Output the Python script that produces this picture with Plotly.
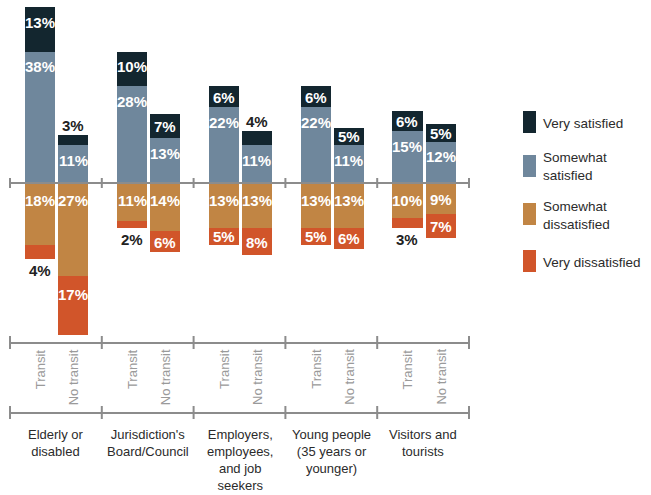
import plotly.graph_objects as go

# ---------------- data ----------------
groups = ["Elderly or<br>disabled", "Jurisdiction's<br>Board/Council",
          "Employers,<br>employees,<br>and job<br>seekers",
          "Young people<br>(35 years or<br>younger)", "Visitors and<br>tourists"]
subcats = ["Transit", "No transit"]
series_names = ["Very satisfied", "Somewhat satisfied", "Somewhat dissatisfied", "Very dissatisfied"]
legend_labels = ["Very satisfied", "Somewhat<br>satisfied", "Somewhat<br>dissatisfied", "Very dissatisfied"]

# order: (g1 Transit, g1 No transit, g2 Transit, ...)
very_satisfied = [13, 3, 10, 7, 6, 4, 6, 5, 6, 5]
somewhat_satisfied = [38, 11, 28, 13, 22, 11, 22, 11, 15, 12]
somewhat_dissatisfied = [18, 27, 11, 14, 13, 13, 13, 13, 10, 9]
very_dissatisfied = [4, 17, 2, 6, 5, 8, 5, 6, 3, 7]

# ---------------- style ----------------
C_VS, C_SS, C_SD, C_VD = "#13262f", "#6f879c", "#c18544", "#d1552a"
FONT = "Liberation Sans, Arial, sans-serif"
AXIS_C = "#8c8c8c"
W, H = 651, 495
PX_PER_UNIT_Y = 3.45
ZERO_PX = 183
PX_PER_GROUP = 91.8
LEFT_PX = 10
SUB_OFFSETS = [0.33, 0.69]
BAR_W = 0.327

y_top = ZERO_PX / PX_PER_UNIT_Y
y_bot = -(H - ZERO_PX) / PX_PER_UNIT_Y
x_left = -LEFT_PX / PX_PER_GROUP
x_right = (W - LEFT_PX) / PX_PER_GROUP


def py(px):  # pixel row -> paper y
    return 1 - px / H


xs = []
for gi in range(len(groups)):
    for sj in range(len(subcats)):
        xs.append(gi + SUB_OFFSETS[sj])

fig = go.Figure()
fig.add_bar(x=xs, y=somewhat_satisfied, name=series_names[1], marker_color=C_SS, width=BAR_W)
fig.add_bar(x=xs, y=very_satisfied, name=series_names[0], marker_color=C_VS, width=BAR_W)
fig.add_bar(x=xs, y=[-v for v in somewhat_dissatisfied], name=series_names[2], marker_color=C_SD, width=BAR_W)
fig.add_bar(x=xs, y=[-v for v in very_dissatisfied], name=series_names[3], marker_color=C_VD, width=BAR_W)
for tr in fig.data:
    tr.marker.line.width = 0
    tr.showlegend = False
    tr.hoverinfo = "skip"

ann = []
LBL_FONT = dict(family=FONT, size=15, weight="bold")


def inside_offset(v, cap):
    h = v * PX_PER_UNIT_Y
    return min(cap, h / 2 + 0.5) / PX_PER_UNIT_Y


for i, x in enumerate(xs):
    ss, vs = somewhat_satisfied[i], very_satisfied[i]
    sd, vd = somewhat_dissatisfied[i], very_dissatisfied[i]
    ann.append(dict(x=x, y=ss - inside_offset(ss, 15), text=f"{ss}%", showarrow=False,
                    yanchor="middle", font=dict(LBL_FONT, color="white")))
    if vs >= 5:
        ann.append(dict(x=x, y=ss + vs - inside_offset(vs, 15), text=f"{vs}%", showarrow=False,
                        yanchor="middle", font=dict(LBL_FONT, color="white")))
    else:
        ann.append(dict(x=x, y=ss + vs, text=f"{vs}%", showarrow=False, yanchor="bottom",
                        yshift=-1, font=dict(LBL_FONT, color="#222222")))
    ann.append(dict(x=x, y=-inside_offset(sd, 17), text=f"{sd}%", showarrow=False,
                    yanchor="middle", font=dict(LBL_FONT, color="white")))
    if vd >= 5:
        ann.append(dict(x=x, y=-sd - inside_offset(vd, 18), text=f"{vd}%", showarrow=False,
                        yanchor="middle", font=dict(LBL_FONT, color="white")))
    else:
        ann.append(dict(x=x, y=-sd - vd, text=f"{vd}%", showarrow=False, yanchor="top",
                        yshift=-1, font=dict(LBL_FONT, color="#222222")))

# sub-category labels (rotated) and group labels
for gi in range(len(groups)):
    for sj, s in enumerate(subcats):
        ann.append(dict(x=gi + SUB_OFFSETS[sj], y=py(347), yref="paper", text=s, textangle=-90,
                        showarrow=False, yanchor="top", xanchor="center",
                        font=dict(family=FONT, size=13, color="#9a9a9a")))
    ann.append(dict(x=gi + 0.5, y=py(425), yref="paper", text=groups[gi], showarrow=False,
                    yanchor="top", xanchor="center", align="center",
                    font=dict(family=FONT, size=13, color="#2b2b2b")))

shapes = []
n = len(groups)
line_style = dict(color=AXIS_C, width=2)
shapes.append(dict(type="line", x0=0, x1=n, y0=0, y1=0, xref="x", yref="y", line=line_style))
for k in range(n + 1):
    shapes.append(dict(type="line", x0=k, x1=k, y0=-5 / PX_PER_UNIT_Y, y1=5 / PX_PER_UNIT_Y,
                       xref="x", yref="y", line=line_style))
for yc in (343, 413):
    shapes.append(dict(type="line", x0=0, x1=n, y0=py(yc), y1=py(yc), xref="x", yref="paper", line=line_style))
    for k in range(n + 1):
        shapes.append(dict(type="line", x0=k, x1=k, y0=py(yc - 7), y1=py(yc + 6),
                           xref="x", yref="paper", line=line_style))

# legend
leg_colors = [C_VS, C_SS, C_SD, C_VD]
leg_tops = [111, 155, 203, 250]
for lbl, col, top in zip(legend_labels, leg_colors, leg_tops):
    shapes.append(dict(type="rect", xref="paper", yref="paper", x0=523 / W, x1=536 / W,
                       y0=py(top + 22), y1=py(top), fillcolor=col, line=dict(width=0)))
    ann.append(dict(xref="paper", yref="paper", x=541 / W, y=py(top + 12), text=lbl,
                    showarrow=False, xanchor="left", yanchor="middle", align="left",
                    font=dict(family=FONT, size=13.5, color="#2b2b2b")))

fig.update_layout(
    barmode="relative",
    width=W, height=H,
    margin=dict(l=0, r=0, t=0, b=0),
    paper_bgcolor="white", plot_bgcolor="white",
    xaxis=dict(range=[x_left, x_right], visible=False, fixedrange=True),
    yaxis=dict(range=[y_bot, y_top], visible=False, fixedrange=True),
    annotations=ann, shapes=shapes, bargap=0,
    showlegend=False,
)

fig.write_html("out.html", config={"displayModeBar": False},
               post_script="document.body.style.margin='0';document.body.style.overflow='hidden';")
